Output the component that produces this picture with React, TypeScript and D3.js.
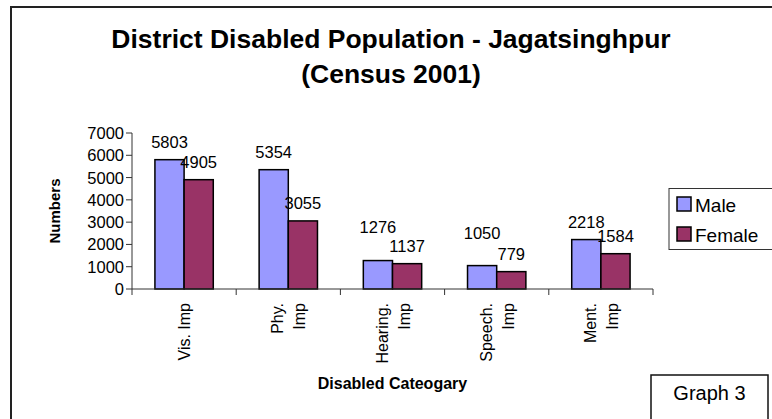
import React from "react";
import * as d3 from "d3";

const categories: string[][] = [["Vis. Imp"], ["Phy.", "Imp"], ["Hearing.", "Imp"], ["Speech.", "Imp"], ["Ment.", "Imp"]];
const categoryKeys = ["Vis", "Phy", "Hearing", "Speech", "Ment"];
const seriesNames = ["Male", "Female"];
const maleValues = [5803, 5354, 1276, 1050, 2218];
const femaleValues = [4905, 3055, 1137, 779, 1584];
const yTicks = [0, 1000, 2000, 3000, 4000, 5000, 6000, 7000];

const colors = ["#9999FF", "#993366"];
// extra lift applied to a few male labels (layout only)
const extraLift: Record<string, number> = { Hearing: 16, Speech: 15 };

const W = 772;
const H = 419;
const FONT = "'Liberation Sans', Arial, sans-serif";

export default function App() {
  const left = 132;
  const right = 653;
  const top = 133;
  const bottom = 289;

  const x0 = d3.scaleBand<string>().domain(categoryKeys).range([left, right]).paddingInner(0.44).paddingOuter(0.22);
  const x1 = d3.scaleBand<string>().domain(seriesNames).range([0, x0.bandwidth()]);
  const y = d3.scaleLinear().domain([0, 7000]).range([bottom, top]);
  const band = (right - left) / categoryKeys.length;
  const series = [maleValues, femaleValues];

  return (
    <svg width={W} height={H} style={{ position: "absolute", left: 0, top: 0, background: "#fff" }} fontFamily={FONT}>
      <rect x={0} y={0} width={W} height={H} fill="#fff" />
      {/* outer frame */}
      <rect x={11} y={7} width={W + 20} height={H + 20} fill="none" stroke="#222" strokeWidth={2} />
      {/* title */}
      <g transform="translate(391,0) scale(1.06,1)">
        <text x={0} y={48} textAnchor="middle" fontSize={25} fontWeight="bold" fill="#000">
          District Disabled Population - Jagatsinghpur
        </text>
        <text x={0} y={83} textAnchor="middle" fontSize={25} fontWeight="bold" fill="#000">
          (Census 2001)
        </text>
      </g>

      {/* y axis */}
      <line x1={left} x2={left} y1={top} y2={bottom} stroke="#333" strokeWidth={1} />
      {yTicks.map((t) => (
        <g key={t}>
          <line x1={left - 6} x2={left} y1={y(t)} y2={y(t)} stroke="#333" />
          <text x={left - 8} y={y(t) + 6} textAnchor="end" fontSize={16.5} fill="#000">
            {t}
          </text>
        </g>
      ))}
      <text transform={`translate(60,${(top + bottom) / 2}) rotate(-90)`} textAnchor="middle" fontSize={15} fontWeight="bold">
        Numbers
      </text>

      {/* bars */}
      {categoryKeys.map((c, i) =>
        series.map((vals, s) => {
          const bx = (x0(c) as number) + (x1(seriesNames[s]) as number);
          const by = y(vals[i]);
          return (
            <rect key={c + s} x={bx} y={by} width={x1.bandwidth()} height={bottom - by} fill={colors[s]} stroke="#000" strokeWidth={1.5} />
          );
        })
      )}
      {/* labels */}
      {categoryKeys.map((c, i) =>
        series.map((vals, s) => {
          const bx = (x0(c) as number) + (x1(seriesNames[s]) as number) + x1.bandwidth() / 2;
          const lift = 12 + (s === 0 ? extraLift[c] || 0 : 0);
          return (
            <text key={"l" + c + s} x={bx} y={y(vals[i]) - lift} textAnchor="middle" fontSize={16.5} fill="#000">
              {vals[i]}
            </text>
          );
        })
      )}

      {/* x axis */}
      <line x1={left} x2={right} y1={bottom} y2={bottom} stroke="#333" />
      {d3.range(categoryKeys.length + 1).map((k) => (
        <line key={"t" + k} x1={left + k * band} x2={left + k * band} y1={bottom} y2={bottom + 6} stroke="#333" />
      ))}
      {categoryKeys.map((c, i) => {
        const cx = (x0(c) as number) + x0.bandwidth() / 2;
        const lines = categories[i];
        return lines.map((ln, j) => {
          const off = (j - (lines.length - 1) / 2) * 22;
          return (
            <text key={"x" + c + j} transform={`translate(${cx + off + 6},303) rotate(-90)`} textAnchor="end" fontSize={16}>
              {ln}
            </text>
          );
        });
      })}
      <text x={(left + right) / 2} y={389} textAnchor="middle" fontSize={16} fontWeight="bold">
        Disabled Cateogary
      </text>

      {/* legend */}
      <rect x={669} y={188.5} width={120} height={61} fill="#fff" stroke="#333" strokeWidth={1} />
      {seriesNames.map((n, i) => (
        <g key={n}>
          <rect x={677} y={197 + i * 30} width={14} height={14} fill={colors[i]} stroke="#000" strokeWidth={1.5} />
          <text x={695} y={211.5 + i * 30} fontSize={19}>
            {n}
          </text>
        </g>
      ))}

      {/* graph label box */}
      <rect x={651} y={375} width={117} height={60} fill="#fff" stroke="#111" strokeWidth={1.5} />
      <text x={709.5} y={400} textAnchor="middle" fontSize={20}>
        Graph 3
      </text>
    </svg>
  );
}
